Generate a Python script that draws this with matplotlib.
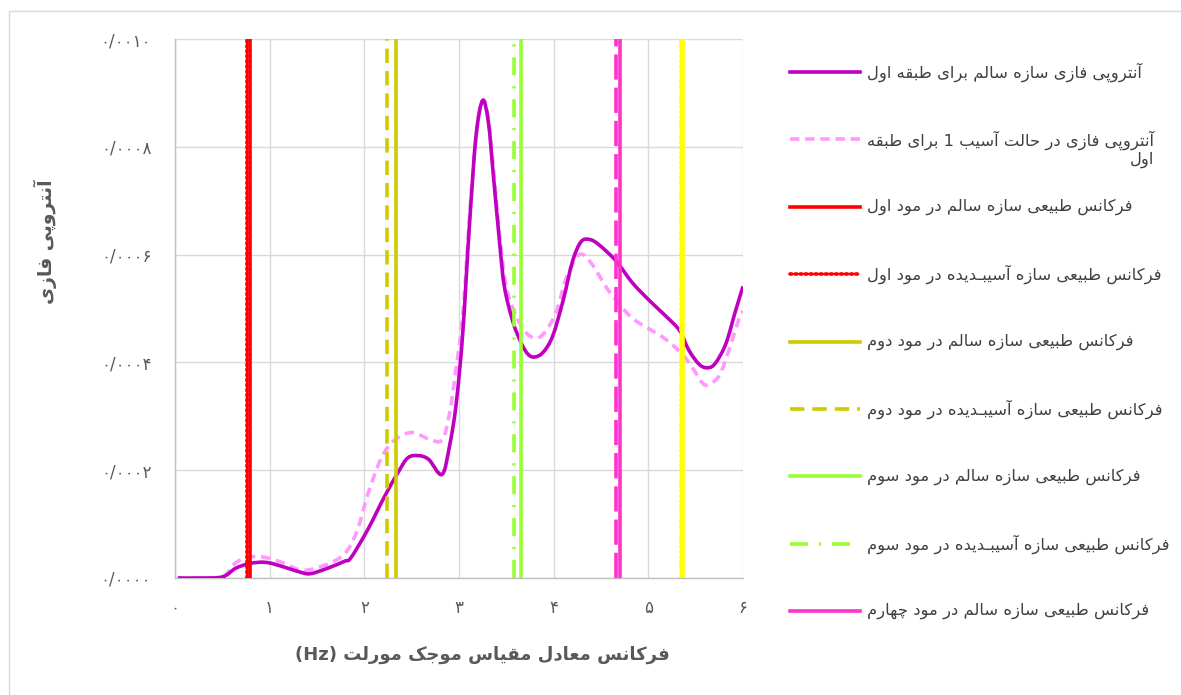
import matplotlib
matplotlib.use("Agg")
import matplotlib.pyplot as plt
from matplotlib.lines import Line2D
from matplotlib.path import Path
from matplotlib.patches import PathPatch

# ---------------------------------------------------------------- data
# phase entropy of the first storey (healthy structure)
freq_healthy = [0.03, 0.25, 0.50, 0.64, 0.79, 0.96, 1.14, 1.32, 1.43, 1.61, 1.79, 1.86,
                2.04, 2.21, 2.36, 2.46, 2.57, 2.68, 2.82, 2.90, 2.97, 3.04, 3.11, 3.18,
                3.25, 3.31, 3.36, 3.43, 3.48, 3.57, 3.66, 3.73, 3.80, 3.89, 3.99, 4.10,
                4.20, 4.29, 4.38, 4.48, 4.66, 4.83, 5.01, 5.19, 5.33, 5.43, 5.54, 5.63,
                5.71, 5.82, 5.92, 6.00]
entropy_healthy = [0.0, 0.0, 0.02, 0.18, 0.27, 0.29, 0.21, 0.11, 0.08, 0.18, 0.31, 0.38,
                   0.91, 1.50, 1.97, 2.23, 2.27, 2.20, 1.92, 2.45, 3.23, 4.55, 6.54, 8.20,
                   8.86, 8.46, 7.53, 6.20, 5.40, 4.75, 4.35, 4.15, 4.10, 4.19, 4.49, 5.15,
                   5.88, 6.24, 6.28, 6.18, 5.88, 5.48, 5.15, 4.85, 4.59, 4.22, 3.96, 3.90,
                   3.99, 4.35, 4.95, 5.41]  # x 1e-4

# phase entropy of the first storey (damage case 1)
freq_damaged = [0.03, 0.25, 0.50, 0.64, 0.79, 0.96, 1.14, 1.32, 1.46, 1.68, 1.82, 1.93,
                2.04, 2.18, 2.32, 2.50, 2.68, 2.82, 2.90, 2.97, 3.04, 3.11, 3.18, 3.25,
                3.31, 3.36, 3.43, 3.50, 3.60, 3.71, 3.82, 3.92, 4.03, 4.13, 4.24, 4.31,
                4.41, 4.55, 4.66, 4.83, 5.01, 5.19, 5.36, 5.47, 5.57, 5.64, 5.75, 5.85,
                5.96, 6.00]
entropy_damaged = [0.0, 0.0, 0.02, 0.28, 0.39, 0.38, 0.28, 0.15, 0.17, 0.31, 0.51, 0.91,
                   1.57, 2.23, 2.56, 2.70, 2.58, 2.56, 3.05, 3.90, 4.88, 6.67, 8.20, 8.86,
                   8.53, 7.67, 6.34, 5.40, 4.88, 4.55, 4.45, 4.59, 4.95, 5.55, 5.94, 6.00,
                   5.81, 5.41, 5.15, 4.82, 4.62, 4.42, 4.15, 3.89, 3.62, 3.59, 3.76, 4.22,
                   4.82, 4.95]  # x 1e-4

# natural frequencies (Hz) of modes 1..5
modes_healthy = [0.79, 2.33, 3.66, 4.70, 5.37]
modes_damaged = [0.76, 2.24, 3.58, 4.66, 5.35]

x_ticks = [0, 1, 2, 3, 4, 5, 6]
x_tick_labels = ["۰", "۱", "۲", "۳", "۴", "۵", "۶"]
y_ticks = [0.0, 0.0002, 0.0004, 0.0006, 0.0008, 0.0010]
y_tick_labels = ["۰/۰۰۰۰", "۰/۰۰۰۲", "۰/۰۰۰۴", "۰/۰۰۰۶", "۰/۰۰۰۸", "۰/۰۰۱۰"]

label_healthy = "آنتروپی فازی سازه سالم برای طبقه اول"
label_damaged = "آنتروپی فازی در حالت آسیب 1 برای طبقه\nاول"
mode_labels = [
    "فرکانس طبیعی سازه سالم در مود اول",
    "فرکانس طبیعی سازه آسیبـدیده در مود اول",
    "فرکانس طبیعی سازه سالم در مود دوم",
    "فرکانس طبیعی سازه آسیبـدیده در مود دوم",
    "فرکانس طبیعی سازه سالم در مود سوم",
    "فرکانس طبیعی سازه آسیبـدیده در مود سوم",
    "فرکانس طبیعی سازه سالم در مود چهارم",
]
x_title = "فرکانس معادل مقیاس موجک مورلت"
y_title = "آنتروپی فازی"

# ------------------------------------------------ Persian text shaping
# (isolated, final, initial, medial); None -> letter does not join forward
FORMS = {
    "\u0627": ("\uFE8D", "\uFE8E", None, None),
    "\u0622": ("\uFE81", "\uFE82", None, None),
    "\u0628": ("\uFE8F", "\uFE90", "\uFE91", "\uFE92"),
    "\u067E": ("\uFB56", "\uFB57", "\uFB58", "\uFB59"),
    "\u062A": ("\uFE95", "\uFE96", "\uFE97", "\uFE98"),
    "\u062C": ("\uFE9D", "\uFE9E", "\uFE9F", "\uFEA0"),
    "\u0686": ("\uFB7A", "\uFB7B", "\uFB7C", "\uFB7D"),
    "\u062D": ("\uFEA1", "\uFEA2", "\uFEA3", "\uFEA4"),
    "\u062F": ("\uFEA9", "\uFEAA", None, None),
    "\u0631": ("\uFEAD", "\uFEAE", None, None),
    "\u0632": ("\uFEAF", "\uFEB0", None, None),
    "\u0633": ("\uFEB1", "\uFEB2", "\uFEB3", "\uFEB4"),
    "\u0637": ("\uFEC1", "\uFEC2", "\uFEC3", "\uFEC4"),
    "\u0639": ("\uFEC9", "\uFECA", "\uFECB", "\uFECC"),
    "\u0641": ("\uFED1", "\uFED2", "\uFED3", "\uFED4"),
    "\u0642": ("\uFED5", "\uFED6", "\uFED7", "\uFED8"),
    "\u06A9": ("\uFB8E", "\uFB8F", "\uFB90", "\uFB91"),
    "\u0644": ("\uFEDD", "\uFEDE", "\uFEDF", "\uFEE0"),
    "\u0645": ("\uFEE1", "\uFEE2", "\uFEE3", "\uFEE4"),
    "\u0646": ("\uFEE5", "\uFEE6", "\uFEE7", "\uFEE8"),
    "\u0647": ("\uFEE9", "\uFEEA", "\uFEEB", "\uFEEC"),
    "\u0648": ("\uFEED", "\uFEEE", None, None),
    "\u06CC": ("\uFBFC", "\uFBFD", "\uFBFE", "\uFBFF"),
}
TATWEEL = "\u0640"


def _joins_forward(ch):
    return ch == TATWEEL or (ch in FORMS and FORMS[ch][2] is not None)


def _joins_back(ch):
    return ch == TATWEEL or ch in FORMS


def shape_line(line):
    out = []
    for i, ch in enumerate(line):
        if ch not in FORMS:
            out.append(ch)
            continue
        prev = line[i - 1] if i > 0 else ""
        nxt = line[i + 1] if i + 1 < len(line) else ""
        jp = bool(prev) and _joins_forward(prev)
        jn = FORMS[ch][2] is not None and bool(nxt) and _joins_back(nxt)
        iso, fin, ini, med = FORMS[ch]
        if jp and jn:
            out.append(med)
        elif jp:
            out.append(fin)
        elif jn:
            out.append(ini)
        else:
            out.append(iso)
    return "".join(out)[::-1]


def fa(text):
    return "\n".join(shape_line(part) for part in text.split("\n"))


def smooth_path(xs, ys):
    """Smoothed line through every point (Catmull-Rom drawn as cubic Beziers)."""
    pts = list(zip(xs, ys))
    n = len(pts)
    verts = [pts[0]]
    codes = [Path.MOVETO]
    for i in range(n - 1):
        p0 = pts[i - 1] if i > 0 else pts[i]
        p1, p2 = pts[i], pts[i + 1]
        p3 = pts[i + 2] if i + 2 < n else pts[i + 1]
        c1 = (p1[0] + (p2[0] - p0[0]) / 6, p1[1] + (p2[1] - p0[1]) / 6)
        c2 = (p2[0] - (p3[0] - p1[0]) / 6, p2[1] - (p3[1] - p1[1]) / 6)
        verts += [c1, c2, p2]
        codes += [Path.CURVE4] * 3
    return Path(verts, codes)


# ---------------------------------------------------------------- figure
plt.rcParams["font.family"] = ["DejaVu Sans"]
W, H = 1181, 695
fig = plt.figure(figsize=(W / 100, H / 100), dpi=100)
fig.patch.set_facecolor("white")
ax = fig.add_axes([175 / W, 1 - 578 / H, (743 - 175) / W, (578 - 39) / H])


def fx(px):
    return px / W


def fy(py):
    return 1 - py / H


# outer chart frame (left and top edges)
fig.add_artist(Line2D([fx(8.5), fx(8.5)], [0, fy(10.5)], transform=fig.transFigure,
                      color="#D9D9D9", lw=1.0))
fig.add_artist(Line2D([fx(8.5), 1], [fy(10.5), fy(10.5)], transform=fig.transFigure,
                      color="#D9D9D9", lw=1.0))

scale = 1e-4
yh = [v * scale for v in entropy_healthy]
yd = [v * scale for v in entropy_damaged]

ax.add_patch(PathPatch(smooth_path(freq_damaged, yd), fill=False, edgecolor="#FF99FF",
                       lw=2.6, linestyle=(0, (2.6, 1.6)), zorder=4))
ax.add_patch(PathPatch(smooth_path(freq_healthy, yh), fill=False, edgecolor="#C000C0",
                       lw=2.6, joinstyle="round", zorder=5))

mode_styles = [
    # (colour, damaged dash pattern)
    ("#FF0000", (0.5, 0.9)),
    ("#CCCC00", (4.0, 2.2)),
    ("#99FF33", (5.0, 3.0, 0.6, 3.0)),
    ("#FF33CC", (7.0, 2.2)),
    ("#FFFF00", (0.5, 0.9)),
]
legend_styles = [
    dict(color="#C000C0"),
    dict(color="#FF99FF", dashes=(2.6, 1.6)),
]
for fh, fd, (col, dash) in zip(modes_healthy, modes_damaged, mode_styles):
    cap = "round" if dash[0] < 1 else "butt"
    ax.axvline(fd, color=col, lw=2.6, dashes=dash, dash_capstyle=cap, zorder=6)
    ax.axvline(fh, color=col, lw=2.6, zorder=6)
    legend_styles.append(dict(color=col))
    legend_styles.append(dict(color=col, dashes=dash, dash_capstyle=cap))

ax.set_xlim(0, 6)
ax.set_ylim(0, 0.0010)
ax.set_xticks(x_ticks, x_tick_labels)
ax.set_yticks(y_ticks, y_tick_labels)
ax.grid(True, color="#D9D9D9", lw=1.0, zorder=0)
ax.set_axisbelow(True)
for side in ("top", "right"):
    ax.spines[side].set_visible(False)
for side in ("left", "bottom"):
    ax.spines[side].set_color("#BFBFBF")
    ax.spines[side].set_linewidth(1.0)
ax.tick_params(length=0, colors="#595959", labelsize=12)
ax.tick_params(axis="y", pad=17)
ax.tick_params(axis="x", pad=15)

fig.text(fx(482), fy(655), "(Hz) " + fa(x_title), ha="center", va="center",
         fontsize=13, fontweight="bold", color="#595959")
fig.text(fx(45), fy(242), fa(y_title), ha="center", va="center", rotation=90,
         fontsize=13.5, fontweight="bold", color="#595959")

# legend column on the right: one row every 67.4 px
labels = [label_healthy, label_damaged] + mode_labels
row0, row_step = 72, 67.4
for i, (lab, style) in enumerate(zip(labels, legend_styles)):
    y = row0 + i * row_step
    fig.add_artist(Line2D([fx(790), fx(860)], [fy(y), fy(y)], transform=fig.transFigure,
                          lw=2.6, **style))
    n_lines = lab.count("\n") + 1
    yc = y + (n_lines - 1) * 10
    fig.text(fx(867), fy(yc), fa(lab), ha="left", va="center", fontsize=11.8,
             color="#404040", multialignment="right", linespacing=1.15)

fig.savefig("out.png", dpi=100, facecolor="white")
